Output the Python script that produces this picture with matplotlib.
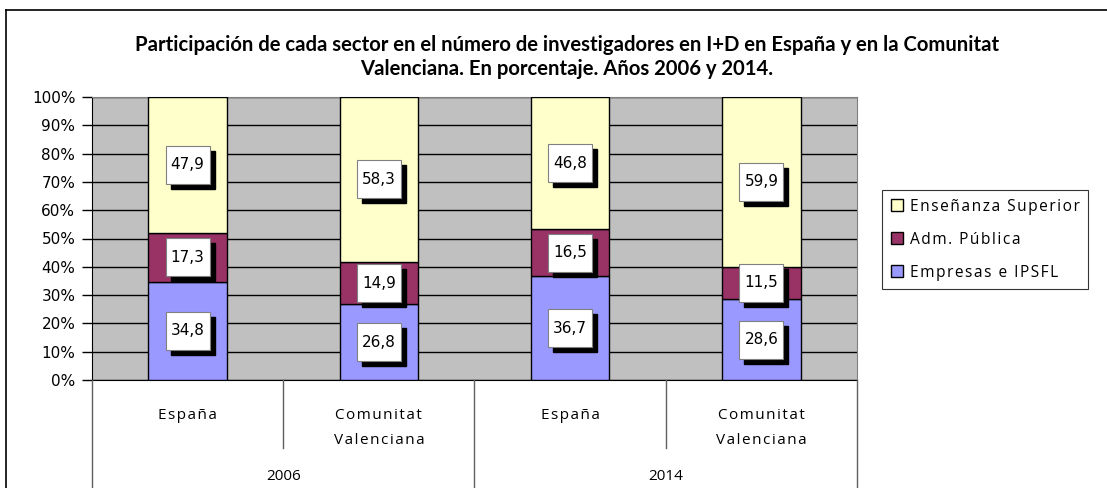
import matplotlib.pyplot as plt
from matplotlib import transforms
from matplotlib.patches import Rectangle, Patch
from matplotlib.lines import Line2D

# data
categories = ['España', 'Comunitat\nValenciana', 'España', 'Comunitat\nValenciana']
years = ['2006', '2014']
series_names = ['Empresas e IPSFL', 'Adm. Pública', 'Enseñanza Superior']
empresas = [34.8, 26.8, 36.7, 28.6]
adm_publica = [17.3, 14.9, 16.5, 11.5]
ens_superior = [47.9, 58.3, 46.8, 59.9]
yticks = [0, 10, 20, 30, 40, 50, 60, 70, 80, 90, 100]

colors = ['#9999FF', '#993366', '#FFFFCC']
title = ('Participación de cada sector en el número de investigadores en I+D en España y en la Comunitat\n'
         'Valenciana. En porcentaje. Años 2006 y 2014.')
FAM = ['Open Sans', 'DejaVu Sans']


def spaced(s):
    # the original labels are drawn with wide letter spacing
    return '\n'.join('\u200a'.join(line) for line in s.split('\n'))


W, H = 1107, 488
fig = plt.figure(figsize=(W / 100, H / 100), dpi=100)

# outer chart border (only left and top visible in the crop)
fig.add_artist(Line2D([6 / W, 6 / W], [0, 1 - 10 / H], color='black', lw=1.2))
fig.add_artist(Line2D([6 / W, 1], [1 - 10 / H, 1 - 10 / H], color='black', lw=1.2))

fig.text(567 / W, 1 - 57 / H, title, ha='center', va='center', fontsize=14.6,
         fontweight='bold', family='Lato', linespacing=1.2)

ax_l, ax_r, ax_t, ax_b = 92, 857, 97, 380
ax = fig.add_axes([ax_l / W, 1 - ax_b / H, (ax_r - ax_l) / W, (ax_b - ax_t) / H])
ax.set_facecolor('#C0C0C0')

x = range(len(categories))
series = [empresas, adm_publica, ens_superior]
bottom = [0] * len(categories)
handles = []
for name, vals, c in zip(series_names, series, colors):
    ax.bar(x, vals, bottom=bottom, width=0.41, color=c, edgecolor='black', lw=1, zorder=3)
    handles.append(Patch(facecolor=c, edgecolor='black', label=name))
    for xi, b, v in zip(x, bottom, vals):
        yc = b + v / 2
        base = fig.dpi_scale_trans + transforms.ScaledTranslation(xi, yc, ax.transData)
        ax.add_patch(Rectangle((-0.17, -0.24), 0.44, 0.38, transform=base,
                               facecolor='black', edgecolor='black', zorder=4, clip_on=False))
        ax.add_patch(Rectangle((-0.22, -0.19), 0.44, 0.38, transform=base,
                               facecolor='white', edgecolor='#808080', lw=0.8, zorder=5, clip_on=False))
        ax.text(xi, yc, f'{v:.1f}'.replace('.', ','), ha='center', va='center',
                fontsize=11, family='DejaVu Sans', zorder=6)
    bottom = [b + v for b, v in zip(bottom, vals)]

ax.set_xlim(-0.5, len(categories) - 0.5)
ax.set_ylim(0, 100)
ax.set_yticks(yticks)
ax.set_yticklabels([f'{t}%' for t in yticks], fontsize=11, family='DejaVu Sans')
ax.yaxis.grid(True, color='black', lw=1, zorder=1)
ax.set_axisbelow(True)
ax.tick_params(axis='y', direction='out', length=7, width=1, pad=5)
ax.set_xticks([])
for s in ['top', 'right']:
    ax.spines[s].set_color('#808080')
ax.spines['left'].set_color('black')
ax.spines['bottom'].set_color('black')

# multi-level category axis
for i, cat in enumerate(categories):
    ax.text(i, -9.8, spaced(cat), ha='center', va='top', fontsize=11, family=FAM,
            linespacing=1.95, clip_on=False)
for j, yr in enumerate(years):
    fig.text((ax_l + (ax_r - ax_l) * (0.25 + 0.5 * j)) / W, 1 - 476 / H, yr,
             ha='center', va='center', fontsize=11, family=FAM)
for k, xp in enumerate([92, 283, 474, 666, 857]):
    yend = 448 if k in (1, 3) else H
    fig.add_artist(Line2D([xp / W, xp / W], [1 - 380 / H, 1 - yend / H], color='#606060', lw=1))

leg = fig.legend(handles[::-1], [spaced(s) for s in series_names[::-1]], loc='upper left',
                 bbox_to_anchor=(882 / W, 1 - 190 / H), frameon=True, fancybox=False,
                 edgecolor='black', handlelength=0.8, handleheight=0.8,
                 handletextpad=0.45, labelspacing=1.1, borderpad=0.55, borderaxespad=0,
                 prop={'family': FAM, 'size': 11.2})
leg.get_frame().set_linewidth(0.8)

fig.savefig('out.png', dpi=100)
